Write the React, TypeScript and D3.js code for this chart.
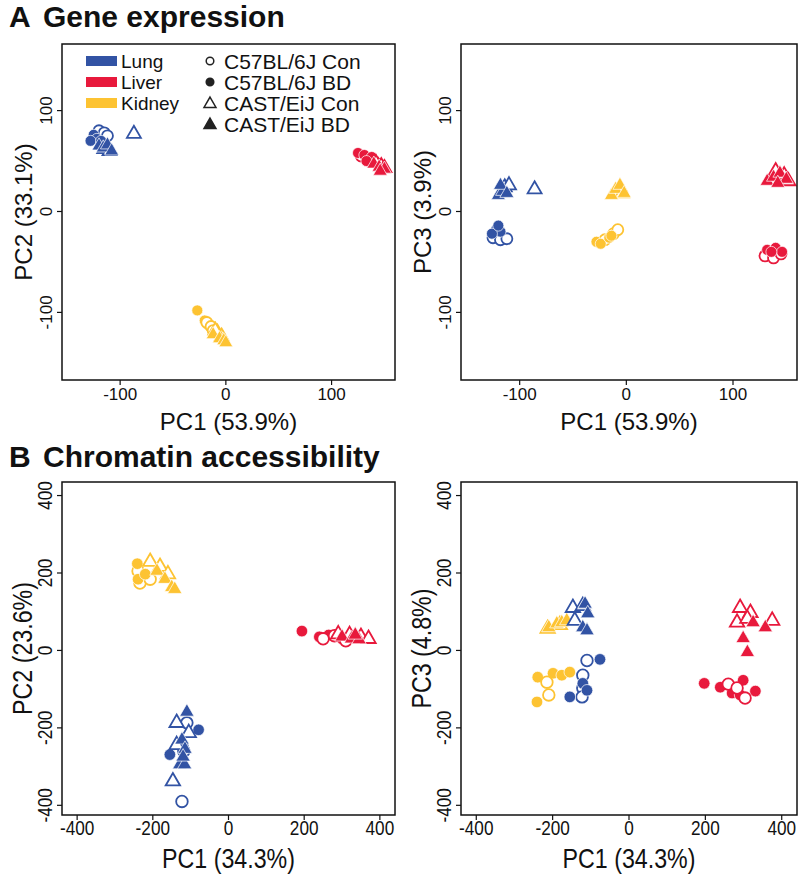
import React from 'react';
import * as d3 from 'd3';

// tissues / groups
const tissues = ['Lung', 'Liver', 'Kidney'];
const tissueColors = ['#3253a4', '#e8193c', '#fdc332'];
const groups = ['C57BL/6J Con', 'C57BL/6J BD', 'CAST/EiJ Con', 'CAST/EiJ BD'];
const groupOpen = [true, false, true, false];
const groupShape = ['circle', 'circle', 'triangle', 'triangle'];

const ticksA = [-100, 0, 100];
const ticksB = [-400, -200, 0, 200, 400];

// rows: [tissue, group, PC1, PCn]
const exprPC12 = [
  [0, 0, -120, 80], [0, 0, -115, 78], [0, 0, -112, 75],
  [0, 1, -125, 76], [0, 1, -122, 72], [0, 1, -128, 70], [0, 1, -118, 70],
  [0, 2, -87, 77], [0, 2, -115, 62], [0, 2, -110, 60],
  [0, 3, -120, 65], [0, 3, -116, 63], [0, 3, -112, 66], [0, 3, -108, 60],
  [1, 0, 128, 55], [1, 0, 135, 52], [1, 0, 140, 50],
  [1, 1, 125, 58], [1, 1, 131, 56], [1, 1, 138, 54], [1, 1, 133, 50],
  [1, 2, 142, 48], [1, 2, 147, 45], [1, 2, 150, 43],
  [1, 3, 140, 47], [1, 3, 145, 44], [1, 3, 150, 42], [1, 3, 146, 40],
  [2, 1, -27, -98], [2, 1, -20, -108], [2, 1, -17, -112],
  [2, 0, -18, -110], [2, 0, -14, -114], [2, 0, -12, -118],
  [2, 2, -8, -120], [2, 2, -4, -124], [2, 2, -10, -118],
  [2, 3, -12, -122], [2, 3, -6, -126], [2, 3, -2, -128], [2, 3, 0, -130],
];

const exprPC13 = [
  [0, 0, -125, -26], [0, 0, -118, -28], [0, 0, -112, -27],
  [0, 1, -122, -18], [0, 1, -118, -20], [0, 1, -126, -22], [0, 1, -120, -14],
  [0, 2, -86, 22], [0, 2, -114, 24], [0, 2, -110, 26],
  [0, 3, -120, 16], [0, 3, -116, 20], [0, 3, -118, 26], [0, 3, -112, 18],
  [2, 0, -20, -28], [2, 0, -12, -22], [2, 0, -8, -18],
  [2, 1, -28, -30], [2, 1, -24, -32], [2, 1, -16, -26], [2, 1, -14, -24],
  [2, 2, -10, 20], [2, 2, -6, 24], [2, 2, -4, 18],
  [2, 3, -14, 16], [2, 3, -10, 22], [2, 3, -6, 26], [2, 3, -2, 18],
  [1, 0, 130, -44], [1, 0, 138, -46], [1, 0, 145, -42],
  [1, 1, 132, -38], [1, 1, 140, -36], [1, 1, 146, -40], [1, 1, 136, -40],
  [1, 2, 140, 40], [1, 2, 148, 36], [1, 2, 152, 30],
  [1, 3, 132, 30], [1, 3, 138, 34], [1, 3, 144, 38], [1, 3, 150, 32], [1, 3, 142, 28],
];

const chromPC12 = [
  [2, 0, -239, 205], [2, 0, -234, 174], [2, 0, -207, 184],
  [2, 1, -241, 224], [2, 1, -239, 184], [2, 1, -220, 197],
  [2, 2, -207, 229], [2, 2, -181, 216], [2, 2, -160, 197],
  [2, 3, -189, 205], [2, 3, -168, 184], [2, 3, -150, 163], [2, 3, -142, 158],
  [1, 1, 194, 50], [1, 1, 240, 35], [1, 1, 265, 40], [1, 1, 300, 30],
  [1, 0, 250, 30], [1, 0, 280, 38], [1, 0, 310, 25],
  [1, 2, 290, 42], [1, 2, 320, 40], [1, 2, 350, 35], [1, 2, 370, 30],
  [1, 3, 300, 35], [1, 3, 325, 30], [1, 3, 345, 28], [1, 3, 335, 40],
  [0, 0, -110, -187], [0, 0, -123, -390], [0, 0, -118, -260],
  [0, 1, -79, -205], [0, 1, -155, -269], [0, 1, -120, -245],
  [0, 2, -137, -187], [0, 2, -105, -213], [0, 2, -137, -244], [0, 2, -147, -338],
  [0, 3, -110, -159], [0, 3, -123, -231], [0, 3, -115, -255], [0, 3, -129, -295], [0, 3, -116, -295], [0, 3, -120, -275],
];

const chromPC13 = [
  [2, 2, -213, 56], [2, 2, -181, 66],
  [2, 3, -210, 59], [2, 3, -189, 69], [2, 3, -176, 72], [2, 3, -163, 77],
  [0, 2, -147, 110], [0, 2, -121, 115], [0, 2, -142, 77],
  [0, 3, -115, 120], [0, 3, -108, 95], [0, 3, -121, 59], [0, 3, -110, 51],
  [2, 1, -239, -69], [2, 1, -199, -59], [2, 1, -176, -64], [2, 1, -155, -56], [2, 1, -241, -133],
  [2, 0, -215, -82], [2, 0, -210, -115],
  [0, 0, -110, -26], [0, 0, -121, -64], [0, 0, -121, -97], [0, 0, -123, -120],
  [0, 1, -76, -23], [0, 1, -121, -85], [0, 1, -110, -103], [0, 1, -155, -120],
  [1, 2, 291, 110], [1, 2, 318, 97], [1, 2, 283, 72], [1, 2, 375, 77], [1, 2, 310, 82],
  [1, 3, 325, 72], [1, 3, 357, 59], [1, 3, 299, 31], [1, 3, 310, -5],
  [1, 1, 197, -85], [1, 1, 239, -95], [1, 1, 270, -110], [1, 1, 299, -77], [1, 1, 331, -105], [1, 1, 291, -115],
  [1, 0, 260, -87], [1, 0, 304, -123], [1, 0, 283, -97],
];

const FONT = '"Liberation Sans", Arial, sans-serif';

const Marker = ({ cx, cy, tissue, group, r, triSize, strokeW }) => {
  const color = tissueColors[tissue];
  const open = groupOpen[group];
  const fill = open ? '#fff' : color;
  const stroke = open ? color : '#fff';
  const sw = open ? strokeW : 0.7;
  if (groupShape[group] === 'circle') {
    return <circle cx={cx} cy={cy} r={r} fill={fill} stroke={stroke} strokeWidth={sw} />;
  }
  const path = d3.symbol().type(d3.symbolTriangle).size(triSize)();
  return <path d={path} transform={`translate(${cx},${cy})`} fill={fill} stroke={stroke} strokeWidth={sw} />;
};

// squeeze = horizontal condensing of the glyphs (panel B uses a narrow face)
const Panel = ({ left, top, width, height, xDomain, yDomain, xTicks, yTicks, xLabel, yLabel, points, r, triSize, tickSize, titleSize, squeeze, titleGap }) => {
  const x = d3.scaleLinear().domain(xDomain).range([left, left + width]);
  const y = d3.scaleLinear().domain(yDomain).range([top + height, top]);
  const bottom = top + height;
  const sq = `scale(${squeeze},1)`;
  return (
    <g fontFamily={FONT} fill="#111">
      {points.map((p, i) => (
        <Marker key={i} cx={x(p[2])} cy={y(p[3])} tissue={p[0]} group={p[1]} r={r} triSize={triSize} strokeW={1.8} />
      ))}
      <rect x={left} y={top} width={width} height={height} fill="none" stroke="#111" strokeWidth={1.5} />
      {xTicks.map(t => (
        <g key={'x' + t}>
          <line x1={x(t)} x2={x(t)} y1={bottom} y2={bottom + 5} stroke="#111" strokeWidth={1.2} />
          <text transform={`translate(${x(t)},${bottom + 20}) ${sq}`} textAnchor="middle" fontSize={tickSize}>{t}</text>
        </g>
      ))}
      {yTicks.map(t => (
        <g key={'y' + t}>
          <line x1={left - 5} x2={left} y1={y(t)} y2={y(t)} stroke="#111" strokeWidth={1.2} />
          <text transform={`translate(${left - 10},${y(t)}) rotate(-90) ${sq}`} textAnchor="middle" fontSize={tickSize}>{t}</text>
        </g>
      ))}
      <text transform={`translate(${left + width / 2},${bottom + titleGap}) ${sq}`} textAnchor="middle" fontSize={titleSize}>{xLabel}</text>
      <text transform={`translate(${left - 30},${top + height / 2}) rotate(-90) ${sq}`} textAnchor="middle" fontSize={titleSize}>{yLabel}</text>
    </g>
  );
};

const Legend = ({ left, top }) => {
  const triPath = d3.symbol().type(d3.symbolTriangle).size(62)();
  return (
    <g fontFamily={FONT} fill="#111">
      {tissues.map((t, i) => (
        <g key={t}>
          <rect x={left} y={top + i * 21 - 5} width={31} height={10} fill={tissueColors[i]} />
          <text x={left + 35} y={top + i * 21 + 7} fontSize={19}>{t}</text>
        </g>
      ))}
      {groups.map((g, i) => {
        const cx = left + 124;
        const cy = top + i * 21;
        const open = groupOpen[i];
        return (
          <g key={g}>
            {groupShape[i] === 'circle'
              ? <circle cx={cx} cy={cy} r={3.8} fill={open ? '#fff' : '#222'} stroke="#222" strokeWidth={1.5} />
              : <path d={triPath} transform={`translate(${cx},${cy + 1})`} fill={open ? '#fff' : '#222'} stroke="#222" strokeWidth={1.5} />}
            <text x={left + 138} y={cy + 8} fontSize={21}>{g}</text>
          </g>
        );
      })}
    </g>
  );
};

export default function App() {
  const aX = [-155, 160];
  const aY = [-167, 166];
  const bX = [-440, 440];
  const bY = [-425, 435];
  return (
    <svg width={800} height={878} style={{ position: 'absolute', left: 0, top: 0, background: '#fff' }}>
      <rect width={800} height={878} fill="#fff" />
      <text x={9} y={27} fontSize={30} fontWeight="bold" fontFamily={FONT} fill="#111">A</text>
      <text x={43} y={27} fontSize={30} fontWeight="bold" fontFamily={FONT} fill="#111">Gene expression</text>
      <text x={9} y={467} fontSize={30} fontWeight="bold" fontFamily={FONT} fill="#111">B</text>
      <text x={43} y={467} fontSize={30} fontWeight="bold" fontFamily={FONT} fill="#111">Chromatin accessibility</text>

      <Panel left={62} top={44} width={333} height={336} xDomain={aX} yDomain={aY} xTicks={ticksA} yTicks={ticksA}
        xLabel="PC1 (53.9%)" yLabel="PC2 (33.1%)" points={exprPC12} r={5.5} triSize={85} tickSize={17} titleSize={24} squeeze={1} titleGap={50} />
      <Legend left={86} top={61} />
      <Panel left={461} top={44} width={336} height={336} xDomain={aX} yDomain={aY} xTicks={ticksA} yTicks={ticksA}
        xLabel="PC1 (53.9%)" yLabel="PC3 (3.9%)" points={exprPC13} r={5.5} triSize={85} tickSize={17} titleSize={24} squeeze={1} titleGap={50} />
      <Panel left={62} top={482} width={333} height={333} xDomain={bX} yDomain={bY} xTicks={ticksB} yTicks={ticksB}
        xLabel="PC1 (34.3%)" yLabel="PC2 (23.6%)" points={chromPC12} r={5.8} triSize={90} tickSize={20} titleSize={27} squeeze={0.86} titleGap={53} />
      <Panel left={461} top={482} width={336} height={333} xDomain={bX} yDomain={bY} xTicks={ticksB} yTicks={ticksB}
        xLabel="PC1 (34.3%)" yLabel="PC3 (4.8%)" points={chromPC13} r={5.8} triSize={90} tickSize={20} titleSize={27} squeeze={0.86} titleGap={53} />
    </svg>
  );
}
